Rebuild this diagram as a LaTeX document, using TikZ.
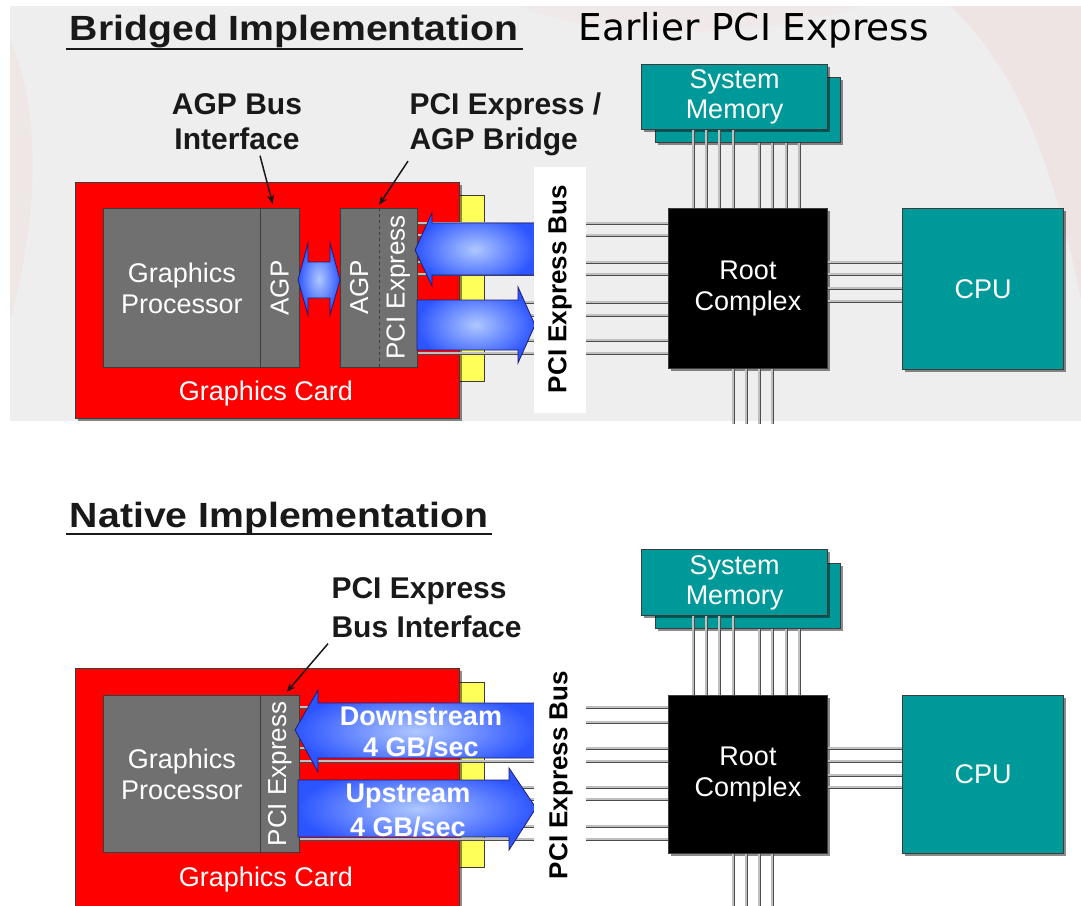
\documentclass[tikz,border=0pt]{standalone}
\usepackage{fontspec}
\setmainfont{Liberation Sans}
\newfontfamily\headfont{DejaVu Sans}
\usetikzlibrary{arrows.meta,shadows}

\definecolor{cardred}{RGB}{255,0,0}
\definecolor{chipgray}{RGB}{112,112,112}
\definecolor{tealfill}{RGB}{0,153,153}
\definecolor{slotyellow}{RGB}{255,255,90}
\definecolor{arrowblue}{RGB}{45,85,255}
\definecolor{arrowlight}{RGB}{175,200,255}
\definecolor{navyedge}{RGB}{30,30,110}
\definecolor{edgegray}{RGB}{60,60,60}
\definecolor{panelgray}{RGB}{238,238,238}
\definecolor{ink}{RGB}{25,25,25}

\newcommand\setfs[2]{\fontsize{#1}{#2}\selectfont}

\begin{document}
\begin{tikzpicture}[x=1pt,y=-1pt,
  box/.style={rectangle,inner sep=0pt,anchor=north west,draw=edgegray,line width=1pt},
  shadowed/.style={drop shadow={shadow xshift=2pt,shadow yshift=-2pt,fill=black,opacity=0.45}},
  chip/.style={box,fill=chipgray,text=white,font=\setfs{27}{31},align=center},
  tealbox/.style={box,fill=tealfill,text=white,font=\setfs{27}{30},align=center,shadowed},
  bus/.style={draw=black!70,line width=0.8pt,double=gray!50,double distance=1.4pt},
  callout/.style={draw=ink,line width=1.5pt,-{Stealth[length=9pt,width=7pt]}},
  flow/.style={draw=navyedge,line width=0.8pt,inner color=arrowlight,outer color=arrowblue},
  boldlbl/.style={font=\bfseries\setfs{30}{35},text=ink},
  flowtxt/.style={font=\bfseries\setfs{27}{31},text=white,align=center},
  vtxt/.style={rotate=90,text=white,font=\setfs{26}{30}},
  bustxt/.style={rotate=90,text=black,font=\bfseries\setfs{26}{30}},
  title/.style={anchor=base west,font=\bfseries\setfs{35}{40},text=ink,xscale=1.12},
]
% page and the light panel behind the upper drawing
\path[use as bounding box] (0,0) rectangle (1081,905);
\fill[white] (0,0) rectangle (1081,905);
\fill[panelgray] (10,6) rectangle (1081,421);
\fill[red!55!white,opacity=0.06] (10,40) .. controls (45,120) and (35,230) .. (10,320) -- cycle;
\fill[red!55!white,opacity=0.08] (950,6) .. controls (1030,80) and (1060,200) .. (1081,300) -- (1081,6) -- cycle;
\fill[red!40!white,opacity=0.06] (520,6) .. controls (600,40) and (760,40) .. (860,6) -- cycle;

% ---------------- bridged implementation ----------------
\node[title] (t1) at (66,40) {Bridged Implementation};
\draw[ink,line width=2pt] ([yshift=-9pt]t1.base west) -- ([yshift=-9pt]t1.base east);
\node[anchor=base west,font=\headfont\setfs{37}{40},xscale=1.01] (t0) at (575,40) {Earlier PCI Express};

\node[box,fill=slotyellow,minimum width=25pt,minimum height=186pt] (slot1) at (459,195) {};
\node[box,fill=cardred,shadowed,minimum width=384pt,minimum height=236pt] (card1) at (75,182) {};
\node[chip,minimum width=157.4pt,minimum height=159pt] (gp1) at (102.6,208) {Graphics\\Processor};
\node[chip,minimum width=38.5pt,minimum height=159pt] (agp1) at (260,208) {};
\node[vtxt] (agp1t) at (agp1.center) {AGP};
\node[chip,minimum width=77.5pt,minimum height=159pt] (bridge1) at (339.5,208) {};
\node[vtxt] (br1a) at (359.2,287.5) {AGP};
\node[vtxt] (br1p) at (398.2,287.5) {PCI Express};
\coordinate (dash1t) at (379,208);
\coordinate (dash1b) at (379,367);
\draw[edgegray,dashed,line width=1pt] (dash1t) -- (dash1b);
\node[text=white,font=\setfs{27}{31}] (gc1) at (266,394) {Graphics Card};

% root complex, memory and CPU
\node[box,fill=black,shadowed,text=white,font=\setfs{27}{31},align=center,minimum width=159pt,minimum height=160pt] (root1) at (668,208) {Root\\Complex};
\node[tealbox,minimum width=161pt,minimum height=161pt] (cpu1) at (902,208) {CPU};
\node[tealbox,minimum width=185pt,minimum height=65pt] (mem1b) at (655,77) {};
\node[tealbox,minimum width=186pt,minimum height=65pt] (mem1f) at (641,64) {System\\Memory};
\coordinate (r1end) at (0,424);

\foreach \x in {693,706,719,733} \draw[bus] (mem1f.south -| \x,0) -- (root1.north -| \x,0);
\foreach \x in {759,772,786,799} \draw[bus] (mem1b.south -| \x,0) -- (root1.north -| \x,0);
\foreach \x in {733,746,759,772} \draw[bus] (root1.south -| \x,0) -- (r1end -| \x,0);
\foreach \y in {262,274,288,301} \draw[bus] (root1.east |- 0,\y) -- (cpu1.west |- 0,\y);
\foreach \y in {223,235,262,274,302,315,340,353} \draw[bus] (bridge1.east |- 0,\y) -- (root1.west |- 0,\y);

% data flow arrows
\path[flow] (298,280) -- (308,243) -- (308,262) -- (330,262) -- (330,243) -- (340,280)
  -- (330,315) -- (330,298) -- (308,298) -- (308,315) -- cycle;
\path[flow] (535,223) -- (432,223) -- (432,213) -- (415,250) -- (432,286) -- (432,275) -- (535,275) -- cycle;
\path[flow] (417,300) -- (518,300) -- (518,287) -- (535,325) -- (518,363) -- (518,350) -- (417,350) -- cycle;

% bus label
\node[rectangle,fill=white,inner sep=0pt,anchor=north west,minimum width=52pt,minimum height=246pt] (busbg1) at (534,167) {};
\node[bustxt] (bus1) at (560,289) {PCI Express Bus};

% callouts
\node[boldlbl,align=center] (lblagp) at (237,122) {AGP Bus\\Interface};
\node[boldlbl,align=left,anchor=west] (lblbr) at (406,124) {PCI Express /\\AGP Bridge};
\draw[callout] ([xshift=23pt,yshift=-2pt]lblagp.south) -- ([xshift=-7pt,yshift=4pt]agp1.north);
\draw[callout] ([xshift=2pt,yshift=-2pt]lblbr.south west) -- ([yshift=3pt]dash1t);

% ---------------- native implementation ----------------
\node[title] (t2) at (66,527) {Native Implementation};
\draw[ink,line width=2pt] ([yshift=-7pt]t2.base west) -- ([yshift=-7pt]t2.base east);

\node[box,fill=slotyellow,minimum width=25pt,minimum height=185pt] (slot2) at (459,682) {};
\node[box,fill=cardred,shadowed,minimum width=384pt,minimum height=240pt] (card2) at (75,668) {};
\node[chip,minimum width=157.4pt,minimum height=157pt] (gp2) at (102.6,695) {Graphics\\Processor};
\node[chip,minimum width=38.5pt,minimum height=157pt] (pcie2) at (260,695) {};
\node[vtxt] (pcie2t) at (pcie2.center) {PCI Express};
\node[text=white,font=\setfs{27}{31}] (gc2) at (266,880) {Graphics Card};

\node[box,fill=black,shadowed,text=white,font=\setfs{27}{31},align=center,minimum width=159pt,minimum height=158pt] (root2) at (668,695) {Root\\Complex};
\node[tealbox,minimum width=161pt,minimum height=158pt] (cpu2) at (902,695) {CPU};
\node[tealbox,minimum width=185pt,minimum height=65pt] (mem2b) at (655,563) {};
\node[tealbox,minimum width=186pt,minimum height=66pt] (mem2f) at (641,549) {System\\Memory};
\coordinate (r2end) at (0,910);

\foreach \x in {693,706,719,733} \draw[bus] (mem2f.south -| \x,0) -- (root2.north -| \x,0);
\foreach \x in {759,772,786,799} \draw[bus] (mem2b.south -| \x,0) -- (root2.north -| \x,0);
\foreach \x in {733,746,759,772} \draw[bus] (root2.south -| \x,0) -- (r2end -| \x,0);
\foreach \y in {748,761,775,787} \draw[bus] (root2.east |- 0,\y) -- (cpu2.west |- 0,\y);
\foreach \y in {707,722,748,761,787,799,826,839} \draw[bus] (pcie2.east |- 0,\y) -- (root2.west |- 0,\y);

\path[flow] (536,703) -- (318,703) -- (318,690) -- (295,730) -- (318,772) -- (318,758) -- (536,758) -- cycle;
\path[flow] (298,780) -- (509,780) -- (509,768) -- (536,808) -- (509,850) -- (509,837) -- (298,837) -- cycle;
\node[flowtxt] (down2) at (421,732) {Downstream\\4 GB/sec};
\node[flowtxt,font=\bfseries\setfs{27}{34}] (up2) at (408,810) {Upstream\\4 GB/sec};

\node[rectangle,fill=white,inner sep=0pt,anchor=north west,minimum width=52pt,minimum height=240pt] (busbg2) at (534,660) {};
\node[bustxt] (bus2) at (561,775) {PCI Express Bus};

\node[boldlbl,align=left,anchor=west,font=\bfseries\setfs{30}{39}] (lblpci) at (328,608) {PCI Express\\Bus Interface};
\draw[callout] ([xshift=0pt,yshift=-2pt]lblpci.south west) -- ([xshift=7pt,yshift=3pt]pcie2.north);
\end{tikzpicture}
\end{document}
